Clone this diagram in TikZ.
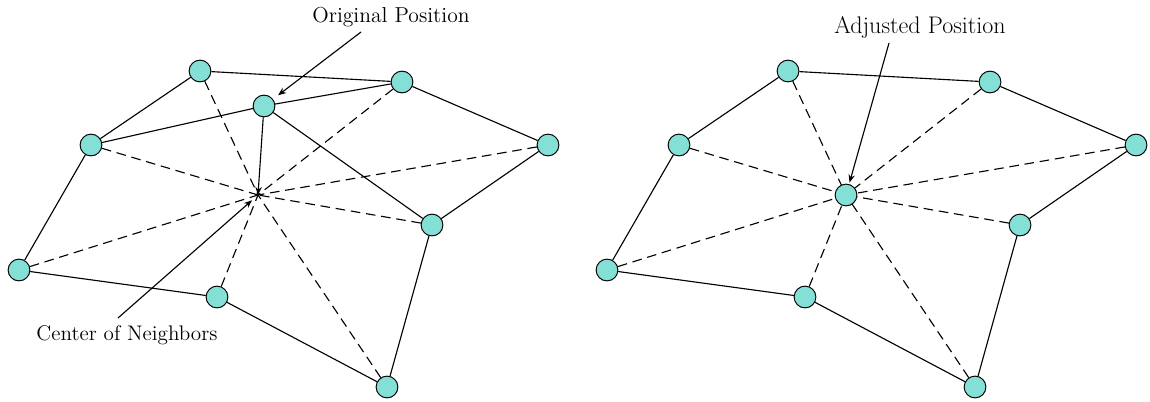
\documentclass[tikz,border=0pt]{standalone}
\usetikzlibrary{arrows.meta}
\definecolor{nodefill}{RGB}{132,224,214}
\begin{document}
\begin{tikzpicture}[x=0.625pt,y=-0.625pt,
  vtx/.style={circle,draw=black,fill=nodefill,line width=0.6pt,minimum size=13.6pt,inner sep=0pt},
  edge/.style={line width=0.7pt},
  dash edge/.style={line width=0.7pt,dash pattern=on 6pt off 3.6pt},
  pointer/.style={line width=0.7pt,-{Stealth[length=5pt,width=4pt]}},
  lbl/.style={inner sep=1pt}]
\useasboundingbox (0,0) rectangle (1150,401);

% ---- left graph: before the move ----
\coordinate (Q) at (258,195);
\node[vtx] (a1) at (200,71) {};
\node[vtx] (b1) at (402,82) {};
\node[vtx] (c1) at (548,145) {};
\node[vtx] (d1) at (432,225) {};
\node[vtx] (e1) at (387,387) {};
\node[vtx] (f1) at (217,297) {};
\node[vtx] (g1) at (19,270) {};
\node[vtx] (h1) at (91,145) {};
\foreach \n in {a1,b1,c1,d1,e1,f1,g1,h1}
  \draw[dash edge] (\n) -- (Q);
\draw[edge] (a1) -- (b1) -- (c1) -- (d1) -- (e1) -- (f1) -- (g1) -- (h1) -- (a1);
\node[vtx] (p1) at (264,106) {};
\draw[edge] (h1) -- (p1) -- (b1);
\draw[edge] (p1) -- (d1);
\draw[pointer] (p1) -- (Q);

\node[lbl,font=\fontsize{13.5}{16}\selectfont] (orig) at (391,17) {Original Position};
\draw[pointer,shorten >=4pt] (361,32) coordinate (origtail) -- (p1);
\node[lbl,font=\fontsize{13.2}{16}\selectfont] (cen) at (127,335) {Center of Neighbors};
\draw[pointer,shorten >=5pt] (118,318) coordinate (centail) -- (Q);

% ---- right graph: after the move ----
\node[vtx] (a2) at (788,71) {};
\node[vtx] (b2) at (990,82) {};
\node[vtx] (c2) at (1136,145) {};
\node[vtx] (d2) at (1020,225) {};
\node[vtx] (e2) at (975,387) {};
\node[vtx] (f2) at (805,297) {};
\node[vtx] (g2) at (607,270) {};
\node[vtx] (h2) at (679,145) {};
\coordinate (Q2) at (846,195);
\foreach \n in {a2,b2,c2,d2,e2,f2,g2,h2}
  \draw[dash edge] (\n) -- (Q2);
\draw[edge] (a2) -- (b2) -- (c2) -- (d2) -- (e2) -- (f2) -- (g2) -- (h2) -- (a2);
\node[vtx] (p2) at (Q2) {};

\node[lbl,font=\fontsize{15}{18}\selectfont] (adj) at (920,27) {Adjusted Position};
\draw[pointer,shorten >=1pt] (889,43) coordinate (adjtail) -- (p2);
\end{tikzpicture}
\end{document}
